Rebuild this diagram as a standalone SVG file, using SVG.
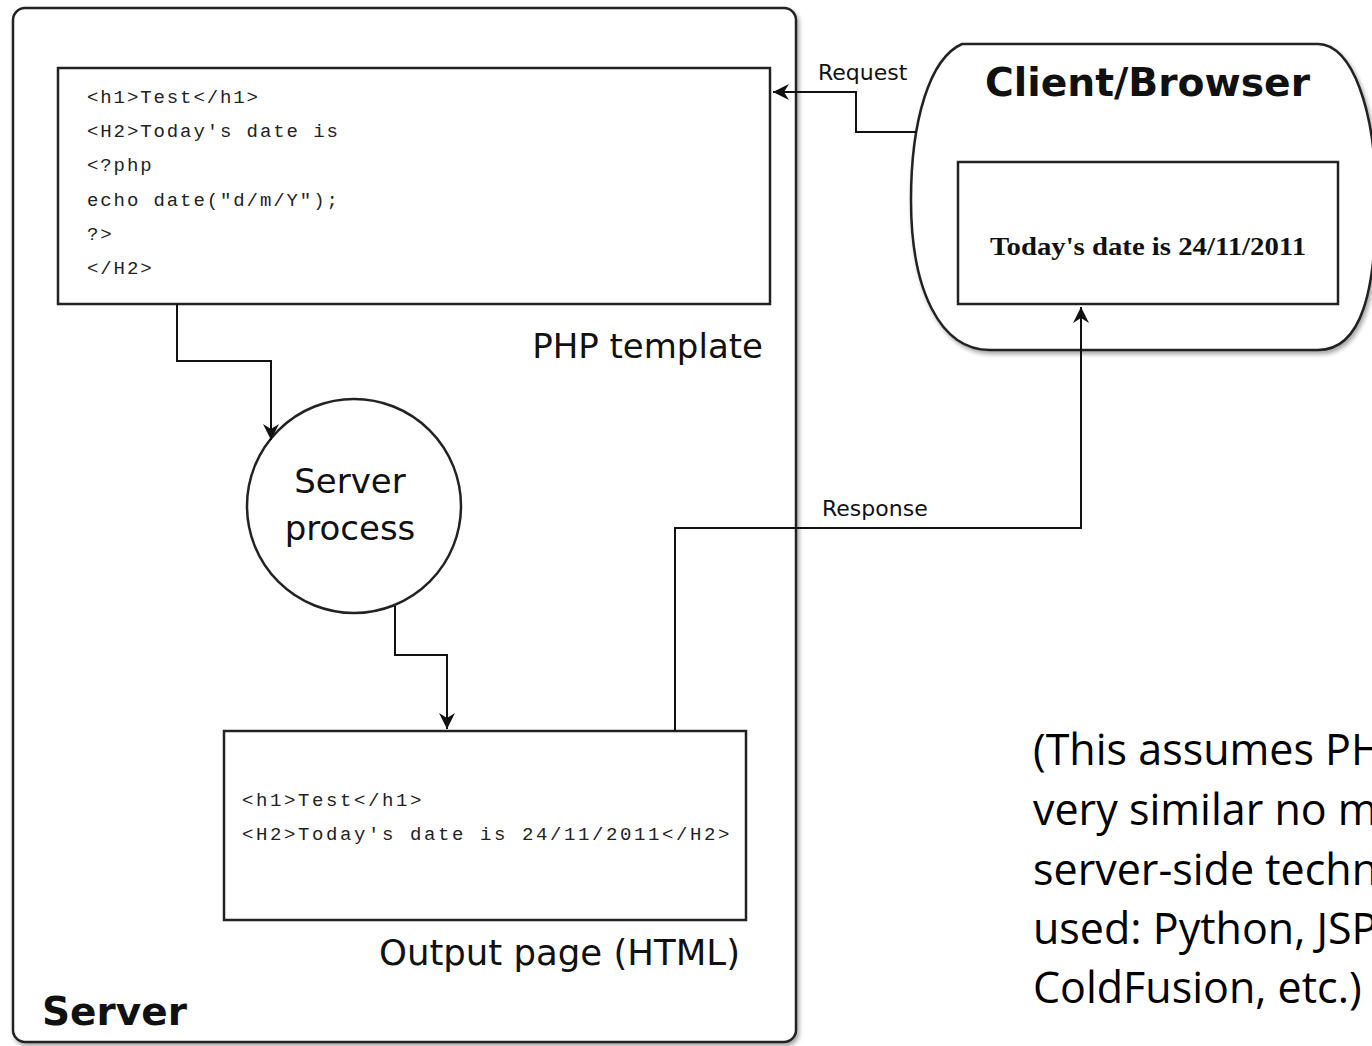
<svg xmlns="http://www.w3.org/2000/svg" width="1372" height="1046" viewBox="0 0 1372 1046">
<style>
.box{fill:#fff;stroke:#222;stroke-width:2.5}
.conn{fill:none;stroke:#111;stroke-width:2}
.code{font-family:"Liberation Mono","Courier New",monospace;font-size:19px;fill:#222}
.lbl{font-family:"DejaVu Sans",sans-serif;font-size:34px;fill:#111}
.small{font-family:"DejaVu Sans",sans-serif;font-size:22px;fill:#111}
.title{font-family:"DejaVu Sans",sans-serif;font-size:39px;font-weight:bold;fill:#111}
.note{font-family:"Open Sans",sans-serif;font-size:43px;fill:#000}
</style>
<defs>
<filter id="sh" x="-5%" y="-5%" width="110%" height="110%">
<feDropShadow dx="2" dy="3" stdDeviation="2" flood-color="#000" flood-opacity="0.35"/>
</filter>
<marker id="arr" markerWidth="18" markerHeight="16" refX="16" refY="8" orient="auto" markerUnits="userSpaceOnUse">
<path d="M0,0 L16,8 L0,16 L5,8 Z" fill="#111"/>
</marker>
</defs>
<rect width="1372" height="1046" fill="#fff"/>

<g id="server">
<rect x="13" y="8" width="783" height="1034" rx="12" class="box" filter="url(#sh)"/>
<text x="42" y="1025" class="title">Server</text>
</g>

<g id="php-template">
<rect x="58" y="68" width="712" height="236" class="box"/>
<text class="code" letter-spacing="1.9">
<tspan x="87" y="103">&lt;h1&gt;Test&lt;/h1&gt;</tspan>
<tspan x="87" y="137">&lt;H2&gt;Today's date is</tspan>
<tspan x="87" y="171">&lt;?php</tspan>
<tspan x="87" y="206">echo date("d/m/Y");</tspan>
<tspan x="87" y="240">?&gt;</tspan>
<tspan x="87" y="274">&lt;/H2&gt;</tspan>
</text>
<text x="763" y="358" class="lbl" text-anchor="end">PHP template</text>
</g>

<g id="server-process">
<circle cx="354" cy="506" r="107" class="box"/>
<text x="350" y="493" class="lbl" text-anchor="middle">Server</text>
<text x="350" y="540" class="lbl" text-anchor="middle">process</text>
</g>

<g id="output-page">
<rect x="224" y="731" width="522" height="189" class="box"/>
<text class="code" letter-spacing="2.6">
<tspan x="242" y="806">&lt;h1&gt;Test&lt;/h1&gt;</tspan>
<tspan x="242" y="840">&lt;H2&gt;Today's date is 24/11/2011&lt;/H2&gt;</tspan>
</text>
<text x="740" y="965" class="lbl" style="font-size:35.5px" text-anchor="end">Output page (HTML)</text>
</g>

<g id="client-browser">
<path d="M962,44 L1318,44 C1352,44 1376,110 1376,200 C1376,290 1362,350 1318,350 L990,350 C940,350 911,290 911,200 C911,120 930,58 962,44 Z" class="box" filter="url(#sh)"/>
<text x="985" y="96" class="title" textLength="325" lengthAdjust="spacingAndGlyphs">Client/Browser</text>
<rect x="958" y="162" width="380" height="142" class="box"/>
<text x="1148" y="255" font-family="'Liberation Serif','Times New Roman',serif" font-size="25" font-weight="bold" fill="#111" text-anchor="middle" textLength="316" lengthAdjust="spacingAndGlyphs">Today's date is 24/11/2011</text>
</g>

<g id="connectors">
<path class="conn" d="M177,304 V361 H271 V440" marker-end="url(#arr)"/>
<path class="conn" d="M395,606 V655 H447 V729" marker-end="url(#arr)"/>
<path class="conn" d="M675,731 V528 H1081 V307" marker-end="url(#arr)"/>
<path class="conn" d="M917,132 H856 V92 H773" marker-end="url(#arr)"/>
<text x="818" y="80" class="small">Request</text>
<text x="822" y="516" class="small">Response</text>
</g>

<g id="note">
<text class="note">
<tspan x="1033" y="765">(This assumes PH</tspan>
<tspan x="1033" y="825">very similar no m</tspan>
<tspan x="1033" y="885">server-side techn</tspan>
<tspan x="1033" y="944">used: Python, JSP</tspan>
<tspan x="1033" y="1003">ColdFusion, etc.)</tspan>
</text>
</g>
</svg>
